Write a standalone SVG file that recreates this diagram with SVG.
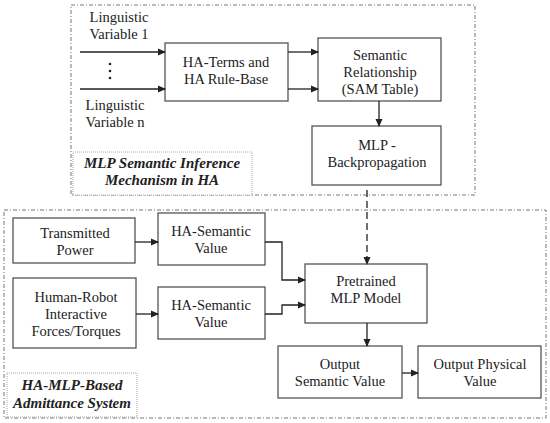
<svg xmlns="http://www.w3.org/2000/svg" width="550" height="423" viewBox="0 0 550 423" font-family="'Liberation Serif', 'Times New Roman', 'DejaVu Serif', serif">
<style>
.box{fill:#fff;stroke:#555;stroke-width:1.3}
.cont{fill:none;stroke:#777;stroke-width:1;stroke-dasharray:4 2 1 2}
.lbl{fill:#fff;stroke:#aaa;stroke-width:1;stroke-dasharray:1 1}
text{font-family:'Liberation Serif','Times New Roman','DejaVu Serif',serif}
.t{font-size:14.5px;fill:#222;text-anchor:middle}
.bi{font-weight:bold;font-style:italic;font-size:15px}
.c{fill:none;stroke:#222;stroke-width:1.3}
</style>
<defs>
<marker id="ah" markerWidth="8" markerHeight="8" refX="7" refY="4" orient="auto" markerUnits="userSpaceOnUse">
<path d="M0,0.5 L8,4 L0,7.5 Z" fill="#222"/>
</marker>
</defs>
<rect x="0" y="0" width="550" height="423" fill="#fff"/>
<g id="containers">
<rect class="cont" x="71" y="5" width="404" height="190"/>
<rect class="cont" x="4" y="210" width="542" height="208"/>
</g>
<g id="label-top">
<rect class="lbl" x="73" y="152" width="179" height="43"/>
<text class="t bi" x="162" y="168">MLP Semantic Inference</text>
<text class="t bi" x="162" y="185">Mechanism in HA</text>
</g>
<g id="label-bottom">
<rect class="lbl" x="7" y="373" width="130" height="44"/>
<text class="t bi" x="72" y="390">HA-MLP-Based</text>
<text class="t bi" x="72" y="408">Admittance System</text>
</g>
<g id="inputs">
<text class="t" x="119" y="22">Linguistic</text>
<text class="t" x="119" y="39">Variable 1</text>
<circle cx="110" cy="64" r="1.3" fill="#222"/>
<circle cx="110" cy="71" r="1.3" fill="#222"/>
<circle cx="110" cy="78" r="1.3" fill="#222"/>
<text class="t" x="115" y="110">Linguistic</text>
<text class="t" x="115" y="127">Variable n</text>
</g>
<g id="haterms">
<rect class="box" x="165" y="43" width="123" height="58"/>
<text class="t" x="226" y="67">HA-Terms and</text>
<text class="t" x="226" y="84">HA Rule-Base</text>
</g>
<g id="semantic">
<rect class="box" x="318" y="38" width="123" height="63"/>
<text class="t" x="380" y="60">Semantic</text>
<text class="t" x="380" y="77">Relationship</text>
<text class="t" x="380" y="94">(SAM Table)</text>
</g>
<g id="mlpbp">
<rect class="box" x="312" y="126" width="129" height="59"/>
<text class="t" x="377" y="150">MLP -</text>
<text class="t" x="377" y="167">Backpropagation</text>
</g>
<g id="power">
<rect class="box" x="13" y="218" width="122" height="45"/>
<text class="t" x="75" y="238">Transmitted</text>
<text class="t" x="75" y="255">Power</text>
</g>
<g id="hasem1">
<rect class="box" x="158" y="213" width="107" height="52"/>
<text class="t" x="211" y="236">HA-Semantic</text>
<text class="t" x="211" y="253">Value</text>
</g>
<g id="forces">
<rect class="box" x="13" y="278" width="123" height="70"/>
<text class="t" x="76" y="302">Human-Robot</text>
<text class="t" x="76" y="319">Interactive</text>
<text class="t" x="76" y="336">Forces/Torques</text>
</g>
<g id="hasem2">
<rect class="box" x="158" y="287" width="107" height="52"/>
<text class="t" x="211" y="310">HA-Semantic</text>
<text class="t" x="211" y="327">Value</text>
</g>
<g id="pretrained">
<rect class="box" x="305" y="264" width="122" height="59"/>
<text class="t" x="366" y="286">Pretrained</text>
<text class="t" x="366" y="303">MLP Model</text>
</g>
<g id="outsem">
<rect class="box" x="278" y="346" width="124" height="52"/>
<text class="t" x="340" y="369">Output</text>
<text class="t" x="340" y="386">Semantic Value</text>
</g>
<g id="outphys">
<rect class="box" x="418" y="346" width="123" height="52"/>
<text class="t" x="480" y="369">Output Physical</text>
<text class="t" x="480" y="386">Value</text>
</g>
<g id="connectors">
<line class="c" x1="80" y1="52" x2="165" y2="52" marker-end="url(#ah)"/>
<line class="c" x1="80" y1="89" x2="165" y2="89" marker-end="url(#ah)"/>
<line class="c" x1="288" y1="52" x2="318" y2="52" marker-end="url(#ah)"/>
<line class="c" x1="288" y1="89" x2="318" y2="89" marker-end="url(#ah)"/>
<line class="c" x1="379" y1="101" x2="379" y2="126" marker-end="url(#ah)"/>
<line class="c" x1="367" y1="190" x2="367" y2="264" stroke-dasharray="7 4" marker-end="url(#ah)"/>
<line class="c" x1="135" y1="242" x2="158" y2="242" marker-end="url(#ah)"/>
<line class="c" x1="136" y1="314" x2="158" y2="314" marker-end="url(#ah)"/>
<polyline class="c" points="265,242 282,242 282,280 305,280" marker-end="url(#ah)"/>
<polyline class="c" points="265,314 282,314 282,305 305,305" marker-end="url(#ah)"/>
<line class="c" x1="367" y1="323" x2="367" y2="346" marker-end="url(#ah)"/>
<line class="c" x1="402" y1="373" x2="418" y2="373" marker-end="url(#ah)"/>
</g>
</svg>
